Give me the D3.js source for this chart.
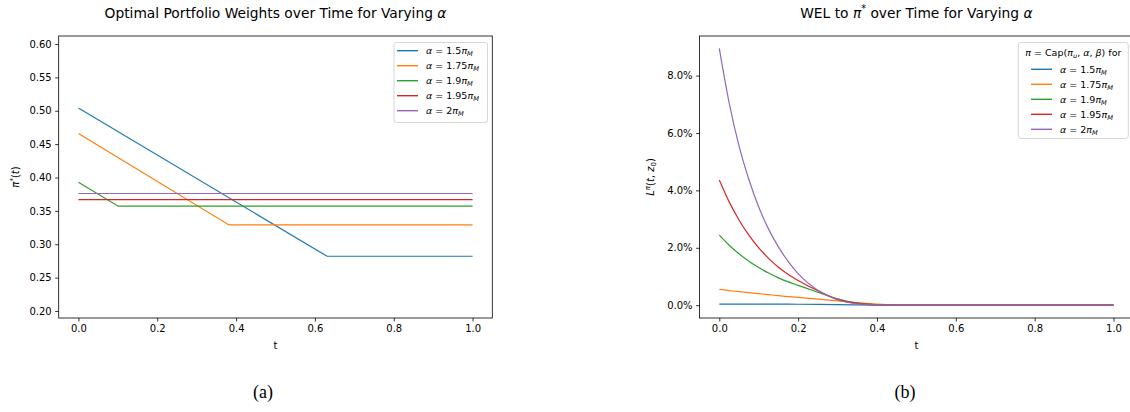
<!DOCTYPE html>
<html><head><meta charset="utf-8">
<script src="https://cdn.jsdelivr.net/npm/d3@7"></script>
<style>body{margin:0;background:#fff}svg{display:block}text{font-family:"DejaVu Sans",sans-serif;fill:#000}</style>
</head><body><svg id="c" width="1130" height="412"></svg>
<script>
// ---------- data ----------
const colors = ["#1f77b4", "#ff7f0e", "#2ca02c", "#d62728", "#9467bd"];
const alphaLabels = ["1.5", "1.75", "1.9", "1.95", "2"];
const xTicks = [0, 0.2, 0.4, 0.6, 0.8, 1.0];
const leftYTicks = [0.20, 0.25, 0.30, 0.35, 0.40, 0.45, 0.50, 0.55, 0.60];
const rightYTicks = [0, 0.02, 0.04, 0.06, 0.08];

// (a) optimal weights: breakpoints in t and values
const wBlueT = [0, 0.631, 1.0],   wBlueV = [0.504, 0.282, 0.282];
const wOrangeT = [0, 0.382, 1.0], wOrangeV = [0.466, 0.329, 0.329];
const wGreenT = [0, 0.101, 1.0],  wGreenV = [0.393, 0.357, 0.357];
const wRedT = [0, 1.0],           wRedV = [0.367, 0.367];
const wPurpleT = [0, 1.0],        wPurpleV = [0.376, 0.376];

// (b) WEL (in %) read at these times
const welT = [0, 0.025, 0.05, 0.075, 0.1, 0.125, 0.15, 0.175, 0.2, 0.25, 0.3, 0.35, 0.4, 0.45, 0.5, 0.75, 1.0];
const welBlue   = [0.04, 0.04, 0.04, 0.04, 0.04, 0.038, 0.036, 0.034, 0.032, 0.026, 0.018, 0.01, 0.003, 0, 0, 0, 0];
const welOrange = [0.55, 0.51, 0.47, 0.435, 0.40, 0.365, 0.33, 0.30, 0.27, 0.21, 0.15, 0.09, 0.04, 0.01, 0, 0, 0];
const welGreen  = [2.44, 2.09, 1.79, 1.53, 1.31, 1.12, 0.95, 0.81, 0.69, 0.45, 0.22, 0.07, 0.015, 0, 0, 0, 0];
const welRed    = [4.36, 3.60, 2.97, 2.44, 2.00, 1.63, 1.32, 1.07, 0.86, 0.50, 0.20, 0.06, 0.012, 0, 0, 0, 0];
const welPurple = [8.95, 7.05, 5.55, 4.38, 3.42, 2.65, 2.03, 1.52, 1.10, 0.52, 0.19, 0.05, 0.01, 0, 0, 0, 0];

// ---------- helpers ----------
const svg = d3.select("#c");
function mathText(sel, parts, size) {
  parts.forEach(p => {
    const ts = sel.append("tspan").text(p.t);
    if (p.i) ts.attr("font-style", "italic");
    let shift = 0, fs = size;
    if (p.sub) { shift = 0.22 * size; fs = size * 0.7; }
    if (p.sup) { shift = -0.4 * size; fs = size * 0.7; }
    ts.attr("font-size", fs);
    ts.node().__shift = shift;
  });
  let prev = 0;
  sel.selectAll("tspan").each(function() {
    const s = this.__shift || 0;
    const d = s - prev;
    if (d !== 0) d3.select(this).attr("dy", d);
    prev = s;
  });
  return sel;
}
function alphaParts(a) {
  return [{t: "α", i: true}, {t: " = " + a}, {t: "π", i: true}, {t: "M", i: true, sub: true}];
}

function panel(opt) {
  const g = svg.append("g");
  const x = d3.scaleLinear().domain([-0.05, 1.05]).range([opt.x0, opt.x1]);
  const y = d3.scaleLinear().domain(opt.ydom).range([opt.y1, opt.y0]);
  const line = d3.line().x(d => x(d[0])).y(d => y(d[1])).curve(opt.curve);
  opt.series.forEach((s, i) => {
    g.append("path").datum(d3.zip(s.t, s.v)).attr("d", line)
      .attr("fill", "none").attr("stroke", colors[i]).attr("stroke-width", 1.2);
  });
  const xa = g.append("g").attr("transform", `translate(0,${opt.y1})`)
    .call(d3.axisBottom(x).tickValues(xTicks).tickFormat(d3.format(".1f")).tickSize(3.5).tickPadding(3.5));
  const ya = g.append("g").attr("transform", `translate(${opt.x0},0)`)
    .call(d3.axisLeft(y).tickValues(opt.yticks).tickFormat(opt.yfmt).tickSize(3.5).tickPadding(3.5));
  [xa, ya].forEach(a => {
    a.select(".domain").remove();
    a.selectAll("text").attr("font-size", 10).attr("font-family", "DejaVu Sans").attr("fill", "#000");
    a.selectAll("line").attr("stroke", "#000").attr("stroke-width", 0.8);
  });
  g.append("rect").attr("x", opt.x0).attr("y", opt.y0).attr("width", opt.x1 - opt.x0).attr("height", opt.y1 - opt.y0)
    .attr("fill", "none").attr("stroke", "#000").attr("stroke-width", 0.8);
  const title = g.append("text").attr("x", (opt.x0 + opt.x1) / 2).attr("y", 18).attr("text-anchor", "middle");
  mathText(title, opt.title, 13.8);
  g.append("text").attr("x", (opt.x0 + opt.x1) / 2).attr("y", 349).attr("text-anchor", "middle").attr("font-size", 10).text("t");
  const yl = g.append("text").attr("transform", `translate(${opt.ylx},${(opt.y0 + opt.y1) / 2}) rotate(-90)`).attr("text-anchor", "middle");
  mathText(yl, opt.ylabel, 10);
  g.append("text").attr("x", opt.tagx).attr("y", 398).attr("text-anchor", "middle")
    .style("font-family", "'Liberation Serif', 'DejaVu Serif', serif").attr("font-size", 18).text(opt.tag);
  const L = opt.legend;
  g.append("rect").attr("x", L.x).attr("y", L.y).attr("width", L.w).attr("height", L.h).attr("rx", 2.5)
    .attr("fill", "#fff").attr("fill-opacity", 0.8).attr("stroke", "#ccc").attr("stroke-width", 0.8);
  if (L.title) {
    const lt = g.append("text").attr("x", L.x + L.w / 2).attr("y", L.y + 13).attr("text-anchor", "middle");
    mathText(lt, L.title, 9.5);
  }
  alphaLabels.forEach((a, i) => {
    const yy = L.row0 + i * 15;
    g.append("line").attr("x1", L.lx).attr("x2", L.lx + 21).attr("y1", yy).attr("y2", yy)
      .attr("stroke", colors[i]).attr("stroke-width", 1.4);
    const t = g.append("text").attr("x", L.lx + 29).attr("y", yy + 3.5);
    mathText(t, alphaParts(a), 9.5);
  });
}

panel({
  x0: 58.7, x1: 492.3, y0: 36, y1: 318,
  ydom: [0.1895, 0.612], yticks: leftYTicks, yfmt: d3.format(".2f"),
  curve: d3.curveLinear,
  series: [
    {t: wBlueT, v: wBlueV}, {t: wOrangeT, v: wOrangeV}, {t: wGreenT, v: wGreenV},
    {t: wRedT, v: wRedV}, {t: wPurpleT, v: wPurpleV}
  ],
  title: [{t: "Optimal Portfolio Weights over Time for Varying "}, {t: "α", i: true}],
  ylabel: [{t: "π", i: true}, {t: "*", sup: true}, {t: "("}, {t: "t", i: true}, {t: ")"}],
  ylx: 19, tag: "(a)", tagx: 263,
  legend: {x: 394, y: 42.5, w: 93.5, h: 80, row0: 50.7, lx: 397}
});

const pct = v => v.map(d => d / 100);
panel({
  x0: 699.6, x1: 1133.2, y0: 36, y1: 318,
  ydom: [-0.00447, 0.0938], yticks: rightYTicks, yfmt: d3.format(".1%"),
  curve: d3.curveMonotoneX,
  series: [
    {t: welT, v: pct(welBlue)}, {t: welT, v: pct(welOrange)}, {t: welT, v: pct(welGreen)},
    {t: welT, v: pct(welRed)}, {t: welT, v: pct(welPurple)}
  ],
  title: [{t: "WEL to "}, {t: "π", i: true}, {t: "*", sup: true}, {t: " over Time for Varying "}, {t: "α", i: true}],
  ylabel: [{t: "L", i: true}, {t: "π", i: true, sup: true}, {t: "("}, {t: "t", i: true}, {t: ", "}, {t: "z", i: true}, {t: "0", sub: true}, {t: ")"}],
  ylx: 654, tag: "(b)", tagx: 905,
  legend: {x: 1018.3, y: 42.5, w: 110, h: 96, row0: 69.3, lx: 1031,
    title: [{t: "π", i: true}, {t: " = Cap("}, {t: "π", i: true}, {t: "u", i: true, sub: true}, {t: ", "}, {t: "α", i: true}, {t: ", "}, {t: "β", i: true}, {t: ") for"}]}
});
</script></body></html>
